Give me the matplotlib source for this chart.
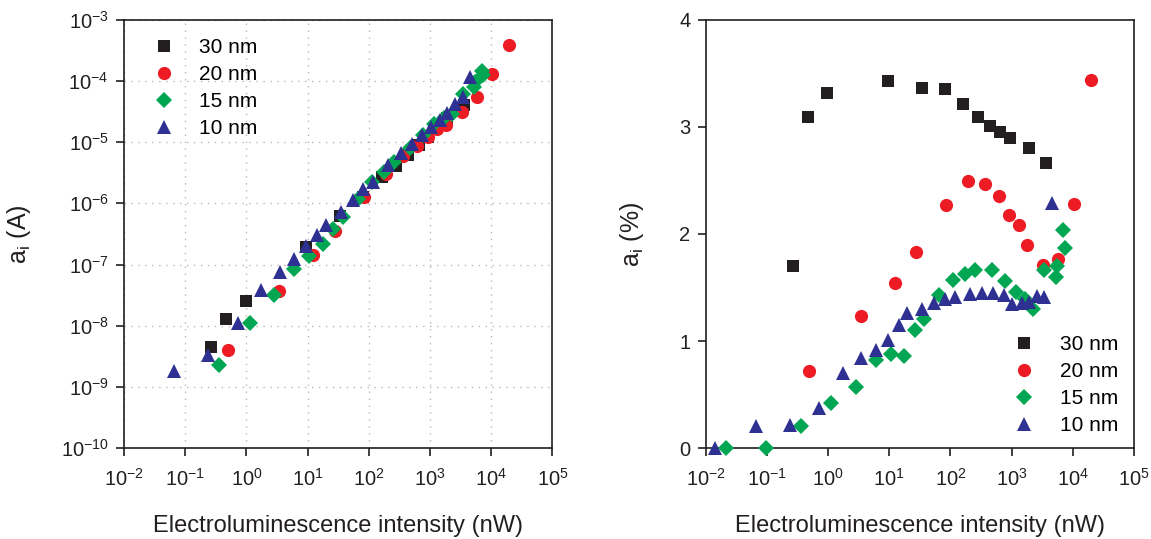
import numpy as np
import matplotlib
matplotlib.use("Agg")
import matplotlib.pyplot as plt
from matplotlib.ticker import LogLocator, NullLocator, FixedLocator

plt.rcParams['font.family'] = ['Liberation Sans', 'DejaVu Sans']
plt.rcParams['mathtext.fontset'] = 'custom'
plt.rcParams['mathtext.rm'] = 'Liberation Sans'
plt.rcParams['mathtext.it'] = 'Liberation Sans:italic'
plt.rcParams['mathtext.bf'] = 'Liberation Sans:bold'
plt.rcParams['mathtext.sf'] = 'Liberation Sans'
plt.rcParams['mathtext.default'] = 'regular'

nan = np.nan

# ---- data: 30 nm ----
x30 = [0.268, 0.466, 0.975, 9.5, 34, 81.6, 162, 282, 439, 653, 931, 1924, 3600]
amp30 = [4.57e-9, 1.28e-8, 2.58e-8, 1.94e-7, 6.2e-7, 1.25e-6, 2.72e-6, 4.07e-6,
         6.15e-6, 8.8e-6, 1.2e-5, 2.5e-5, 4.0e-5]
pct30 = [1.705, 3.094, 3.318, 3.43, 3.36, 3.35, 3.21, 3.094, 3.007, 2.954, 2.895,
         2.80, 2.66]

# ---- data: 20 nm ----
x20 = [0.495, 3.46, 12.3, 27.7, 83.8, 192, 367, 615, 917, 1320, 1808, 3300, 5800,
       10470, 19600]
amp20 = [4.1e-9, 3.75e-8, 1.43e-7, 3.54e-7, 1.28e-6, 3.0e-6, 5.93e-6, 8.6e-6,
         1.2e-5, 1.62e-5, 1.9e-5, 3.13e-5, 5.5e-5, 1.29e-4, 3.85e-4]
pct20 = [0.72, 1.233, 1.541, 1.83, 2.271, 2.495, 2.47, 2.355, 2.178, 2.081, 1.898,
         1.712, 1.768, 2.277, 3.439]

# ---- data: 15 nm ----
x15 = [0.0215, 0.097, 0.358, 1.13, 2.84, 6.08, 10.6, 17.5, 26.4, 37.5, 65.9, 112,
       175, 255, 479, 780, 1180, 1675, 2265, 3390, 5260, 5460, 7000, 7460]
amp15 = [nan, nan, 2.3e-9, 1.12e-8, 3.23e-8, 8.5e-8, 1.4e-7, 2.17e-7, 3.8e-7,
         5.9e-7, 1.18e-6, 2.2e-6, 3.3e-6, 4.8e-6, 8.1e-6, 1.3e-5, 1.95e-5, 2.5e-5,
         2.9e-5, 6.1e-5, 8.0e-5, 9.7e-5, 1.45e-4, 1.25e-4]
pct15 = [0, 0, 0.211, 0.419, 0.571, 0.82, 0.879, 0.857, 1.106, 1.209, 1.426, 1.566,
         1.628, 1.668, 1.668, 1.559, 1.463, 1.395, 1.302, 1.665, 1.597, 1.705,
         2.038, 1.867]

# ---- data: 10 nm ----
x10 = [0.0143, 0.0667, 0.239, 0.721, 1.74, 3.5, 6.08, 9.55, 14.3, 19.8, 34.8,
       54.6, 81.6, 119, 206, 333, 502, 751, 1026, 1462, 1924, 2570, 3420, 4520]
amp10 = [nan, 1.86e-9, 3.4e-9, 1.12e-8, 3.85e-8, 7.57e-8, 1.25e-7, 2.0e-7, 3.08e-7,
         4.48e-7, 7.3e-7, 1.13e-6, 1.7e-6, 2.26e-6, 4.2e-6, 6.56e-6, 9.3e-6, 1.3e-5,
         1.75e-5, 2.3e-5, 3.0e-5, 4.2e-5, 5.5e-5, 1.17e-4]
pct10 = [0, 0.208, 0.214, 0.379, 0.702, 0.842, 0.92, 1.007, 1.146, 1.264, 1.302,
         1.358, 1.395, 1.41, 1.442, 1.447, 1.451, 1.435, 1.349, 1.354, 1.364, 1.417,
         1.41, 2.29]

labels = ['30 nm', '20 nm', '15 nm', '10 nm']
colors = ['#231f20', '#ed1c24', '#00a651', '#2e3192']
markers = ['s', 'o', 'D', '^']
msizes = [8, 9.5, 7.8, 9.5]

xs = [x30, x20, x15, x10]
amps = [amp30, amp20, amp15, amp10]
pcts = [pct30, pct20, pct15, pct10]

fig = plt.figure(figsize=(11.51, 5.39), dpi=100)
axL = fig.add_axes([0.10773, 0.16827, 0.37228, 0.79536])
axR = fig.add_axes([0.61303, 0.16827, 0.37220, 0.79536])

spine_c = '#231f20'
for ax in (axL, axR):
    for s in ax.spines.values():
        s.set_color(spine_c)
        s.set_linewidth(1.2)
    ax.set_xscale('log')
    ax.set_xlim(1e-2, 1e5)
    ax.xaxis.set_major_locator(LogLocator(base=10, numticks=20))
    ax.xaxis.set_minor_locator(NullLocator())
    ax.tick_params(axis='both', which='major', direction='out', length=6,
                   width=1.2, color=spine_c, labelsize=14.5, top=False, right=False,
                   labelcolor='#231f20')
    ax.tick_params(axis='x', pad=8)
    ax.tick_params(axis='y', pad=5)
    ax.set_xlabel('Electroluminescence intensity (nW)', fontsize=17, labelpad=18,
                  color='#231f20')

# left panel
axL.set_yscale('log')
axL.set_ylim(1e-10, 1e-3)
axL.yaxis.set_major_locator(LogLocator(base=10, numticks=20))
axL.yaxis.set_minor_locator(NullLocator())
axL.grid(True, which='major', linestyle=(0, (1, 4)), color='#b8b8b8', linewidth=1.0)
axL.set_axisbelow(True)
handlesL = []
for x, y, c, m, ms, lab in zip(xs, amps, colors, markers, msizes, labels):
    h, = axL.plot(x, y, linestyle='none', marker=m, markersize=ms, color=c,
                  markeredgewidth=0, label=lab)
    handlesL.append(h)
axL.set_ylabel('a$_{\\mathregular{i}}$ (A)', fontsize=18, labelpad=20,
               color='#231f20')
axL.legend(handles=handlesL, loc='upper left', bbox_to_anchor=(0.035, 0.99),
           frameon=False, fontsize=15, handlelength=1.0, handletextpad=1.2,
           labelspacing=0.38, borderaxespad=0.3)

# right panel
axR.set_ylim(0, 4)
axR.yaxis.set_major_locator(FixedLocator([0, 1, 2, 3, 4]))
axR.yaxis.set_minor_locator(NullLocator())
handlesR = []
for x, y, c, m, ms, lab in zip(xs, pcts, colors, markers, msizes, labels):
    h, = axR.plot(x, y, linestyle='none', marker=m, markersize=ms, color=c,
                  markeredgewidth=0, label=lab, clip_on=False, zorder=3)
    handlesR.append(h)
axR.set_ylabel('a$_{\\mathregular{i}}$ (%)', fontsize=18, labelpad=24,
               color='#231f20')
axR.legend(handles=handlesR, loc='lower right', bbox_to_anchor=(0.997, -0.003),
           frameon=False, fontsize=15, handlelength=1.0, handletextpad=1.2,
           labelspacing=0.38, borderaxespad=0.3)

fig.savefig('out.png', dpi=100)
